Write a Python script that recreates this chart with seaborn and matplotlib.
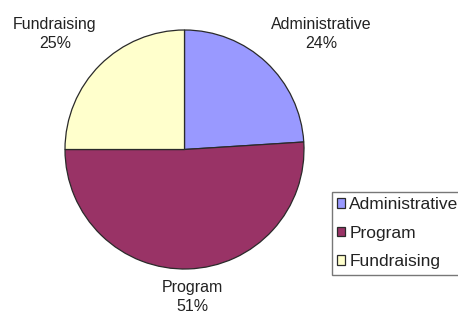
import matplotlib
matplotlib.use("Agg")
import matplotlib.pyplot as plt
import seaborn as sns

categories = ["Administrative", "Program", "Fundraising"]
values = [24, 51, 25]
pct_labels = ["24%", "51%", "25%"]
colors = ["#9999FF", "#993366", "#FFFFCC"]

sns.set_theme(style="white")
plt.rcParams["font.family"] = ["Liberation Sans", "DejaVu Sans"]

W, H = 458, 314
fig = plt.figure(figsize=(W / 100, H / 100), dpi=100)
fig.patch.set_facecolor("white")
ax = fig.add_axes([0, 0, 1, 1])

cx, cy, r = 184.5, H - 149.5, 119.5
wedges, _ = ax.pie(values, colors=colors, startangle=90, counterclock=False,
                   center=(cx, cy), radius=r, frame=True,
                   wedgeprops=dict(edgecolor="#2a2a2a", linewidth=0.9))
ax.set_xlim(0, W)
ax.set_ylim(0, H)
ax.axis("off")

label_pos = [(321, H - 34), (192, H - 297), (55, H - 34)]
for (x, y), cat, p in zip(label_pos, categories, pct_labels):
    ax.text(x, y, f"{cat}\n{p}", ha="center", va="center", fontsize=11.5,
            color="#222222", linespacing=1.3)

leg = ax.legend(wedges, categories, loc="upper left",
                bbox_to_anchor=(332 / W, 1 - 192 / H), bbox_transform=fig.transFigure,
                fontsize=12.5, frameon=True, fancybox=False, shadow=False,
                handlelength=0.45, handleheight=0.45, handletextpad=0.25,
                labelspacing=0.78, borderpad=0.3, borderaxespad=0)
leg.get_frame().set_edgecolor("#555555")
leg.get_frame().set_linewidth(1.0)
for t in leg.get_texts():
    t.set_color("#222222")

fig.savefig("out.png", dpi=100)
